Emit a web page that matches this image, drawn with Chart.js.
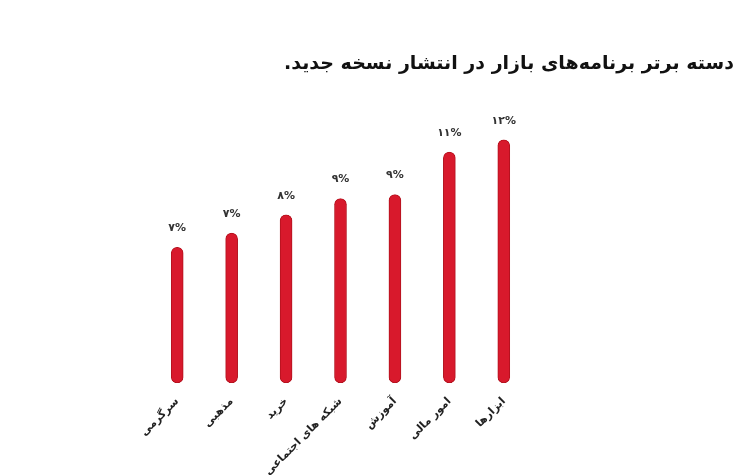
<!DOCTYPE html>
<html lang="fa">
<head>
<meta charset="utf-8">
<script src="https://cdn.jsdelivr.net/npm/chart.js@4.4.1/dist/chart.umd.min.js"></script>
<style>
    html, body { margin: 0; padding: 0; background: #fff; }
    #wrap { position: relative; width: 740px; height: 475px; }
    #title {
        position: absolute; top: 51px; right: 6px;
        direction: rtl; white-space: nowrap;
        font-family: "DejaVu Sans", sans-serif; font-weight: bold;
        font-size: 19px; color: #111;
    }
</style>
</head>
<body>
<div id="wrap">
    <div id="title">دسته برتر برنامه‌های بازار در انتشار نسخه جدید.</div>
    <canvas id="myChart" width="740" height="475"></canvas>
</div>
<script>
const categories = ['سرگرمی', 'مذهبی', 'خرید', 'شبکه های اجتماعی', 'آموزش', 'امور مالی', 'ابزارها'];
const shares = [6.7, 7.4, 8.3, 9.1, 9.3, 11.4, 12.0];
const shareLabels = ['۷%', '۷%', '۸%', '۹%', '۹%', '۱۱%', '۱۲%'];

document.addEventListener('DOMContentLoaded', () => {

    // percentage text above each bar
    const topLabels = {
        id: 'topLabels',
        afterDatasetsDraw(chart) {
            const ctx = chart.ctx;
            const meta = chart.getDatasetMeta(0);
            ctx.save();
            ctx.font = 'bold 11px "DejaVu Sans", sans-serif';
            ctx.fillStyle = '#333';
            ctx.textAlign = 'center';
            ctx.textBaseline = 'middle';
            meta.data.forEach((bar, i) => {
                ctx.fillText(shareLabels[i], bar.x, bar.y - 19);
            });
            ctx.restore();
        }
    };

    const config = {
        type: 'bar',
        data: {
            labels: categories,
            datasets: [{
                data: shares,
                backgroundColor: '#d8192c',
                borderColor: '#b3121e',
                borderWidth: 1,
                borderRadius: 6,
                borderSkipped: false,
                barThickness: 12
            }]
        },
        options: {
            responsive: false,
            animation: false,
            layout: {
                padding: { left: 150, right: 209, top: 79, bottom: 0 }
            },
            plugins: {
                legend: { display: false },
                tooltip: { enabled: false }
            },
            scales: {
                x: {
                    grid: { display: false },
                    border: { display: false },
                    afterFit(scale) { scale.height = 92; },
                    ticks: {
                        autoSkip: false,
                        minRotation: 45,
                        maxRotation: 45,
                        padding: 4,
                        color: '#222',
                        font: { family: '"DejaVu Sans", sans-serif', size: 11, weight: 'bold' }
                    }
                },
                y: {
                    display: false,
                    min: 0,
                    max: 15
                }
            }
        },
        plugins: [topLabels]
    };

    new Chart(document.getElementById('myChart'), config);
});
</script>
</body>
</html>
